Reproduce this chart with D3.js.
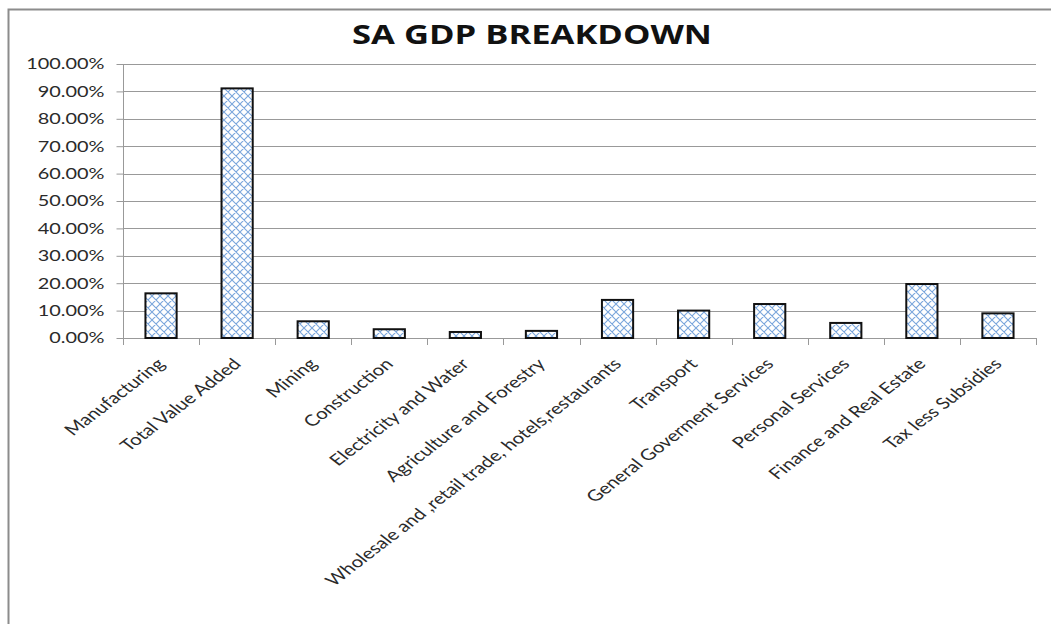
<!DOCTYPE html>
<html>
<head>
<meta charset="utf-8">
<script src="https://cdn.jsdelivr.net/npm/d3@7"></script>
<style>
  html, body { margin: 0; padding: 0; background: #fff; }
  svg { display: block; font-family: Lato, "Open Sans", sans-serif; }
</style>
</head>
<body>
<svg id="chart" width="1051" height="624"></svg>
<script>
const categories = [
  "Manufacturing", "Total Value Added", "Mining", "Construction",
  "Electricity and Water", "Agriculture and Forestry",
  "Wholesale and ,retail trade, hotels,restaurants", "Transport",
  "General Goverment Services", "Personal Services",
  "Finance and Real Estate", "Tax less Subsidies"
];
const values = [0.163, 0.911, 0.061, 0.032, 0.022, 0.026, 0.139, 0.100, 0.124, 0.055, 0.197, 0.090];
const yTickValues = [0, 0.1, 0.2, 0.3, 0.4, 0.5, 0.6, 0.7, 0.8, 0.9, 1.0];

const margin = {top: 64, right: 15, bottom: 286, left: 123};
const width = 1051, height = 624;
// the source picture is stretched sideways, so text gets a horizontal scale
const stretch = 1.3;

const svg = d3.select("#chart");

// hatch pattern for bars
const defs = svg.append("defs");
const pat = defs.append("pattern")
  .attr("id", "hatch")
  .attr("patternUnits", "userSpaceOnUse")
  .attr("width", 8).attr("height", 8);
pat.append("rect").attr("width", 8).attr("height", 8).attr("fill", "#fff");
pat.append("path")
  .attr("d", "M0,0 L8,8 M8,0 L0,8 M-1,7 L1,9 M7,-1 L9,1 M-1,1 L1,-1 M7,9 L9,7")
  .attr("stroke", "#7aa6dc")
  .attr("stroke-width", 1.1);

// outer chart border (left and top visible)
svg.append("path")
  .attr("d", `M8.5,${height} L8.5,9.5 L${width},9.5`)
  .attr("fill", "none")
  .attr("stroke", "#8c8c8c")
  .attr("stroke-width", 2);

const x = d3.scaleBand()
  .domain(categories)
  .range([margin.left, width - margin.right])
  .paddingInner(0.59)
  .paddingOuter(0.295);

const y = d3.scaleLinear()
  .domain([0, 1])
  .range([height - margin.bottom, margin.top]);

// gridlines
svg.append("g")
  .selectAll("line")
  .data(yTickValues.slice(1))
  .join("line")
    .attr("x1", margin.left)
    .attr("x2", width - margin.right)
    .attr("y1", d => Math.round(y(d)) + 0.5)
    .attr("y2", d => Math.round(y(d)) + 0.5)
    .attr("stroke", "#999")
    .attr("stroke-width", 1);

// y axis
const gy = svg.append("g")
  .attr("transform", `translate(${margin.left + 0.5},0)`)
  .call(d3.axisLeft(y)
    .tickValues(yTickValues)
    .tickFormat(d3.format(".2%"))
    .tickSize(7)
    .tickPadding(12));
gy.select(".domain").attr("stroke", "#999").attr("d", `M0,${y(1)}V${y(0)}`);
gy.selectAll(".tick line").attr("stroke", "#999");
gy.selectAll(".tick text")
  .attr("x", 0)
  .attr("transform", `translate(-19,0) scale(${stretch},1)`)
  .attr("fill", "#2a2a2a")
  .style("font-size", "15.3px")
  .style("font-family", "Lato, 'Open Sans', sans-serif");

// x axis
const bandStep = x.step();
const xTickPos = d3.range(categories.length + 1).map(i => margin.left + i * bandStep);
const gx = svg.append("g");
gx.append("line")
  .attr("x1", margin.left).attr("x2", width - margin.right)
  .attr("y1", Math.round(y(0)) + 0.5).attr("y2", Math.round(y(0)) + 0.5)
  .attr("stroke", "#999");
gx.selectAll("line.tk")
  .data(xTickPos)
  .join("line")
    .attr("class", "tk")
    .attr("x1", d => Math.round(d) + 0.5).attr("x2", d => Math.round(d) + 0.5)
    .attr("y1", y(0)).attr("y2", y(0) + 7)
    .attr("stroke", "#999");

// bars
svg.append("g")
  .selectAll("rect")
  .data(values)
  .join("rect")
    .attr("x", (d, i) => x(categories[i]))
    .attr("y", d => y(d))
    .attr("width", x.bandwidth())
    .attr("height", d => y(0) - y(d))
    .attr("fill", "url(#hatch)")
    .attr("stroke", "#111")
    .attr("stroke-width", 2);

// category labels
svg.append("g")
  .selectAll("text")
  .data(categories)
  .join("text")
    .attr("transform", d => `translate(${x(d) + x.bandwidth() / 2 + 5},${y(0) + 27}) scale(${stretch},1) rotate(-45)`)
    .attr("text-anchor", "end")
    .attr("fill", "#2a2a2a")
    .style("font-size", "15.7px")
    .text(d => d);

// title
svg.append("text")
  .attr("transform", `translate(532,44) scale(${stretch},1)`)
  .attr("text-anchor", "middle")
  .attr("fill", "#111")
  .style("font-size", "26.6px")
  .style("font-weight", "bold")
  .style("font-family", "'Open Sans', Lato, sans-serif")
  .text("SA GDP BREAKDOWN");
</script>
</body>
</html>
